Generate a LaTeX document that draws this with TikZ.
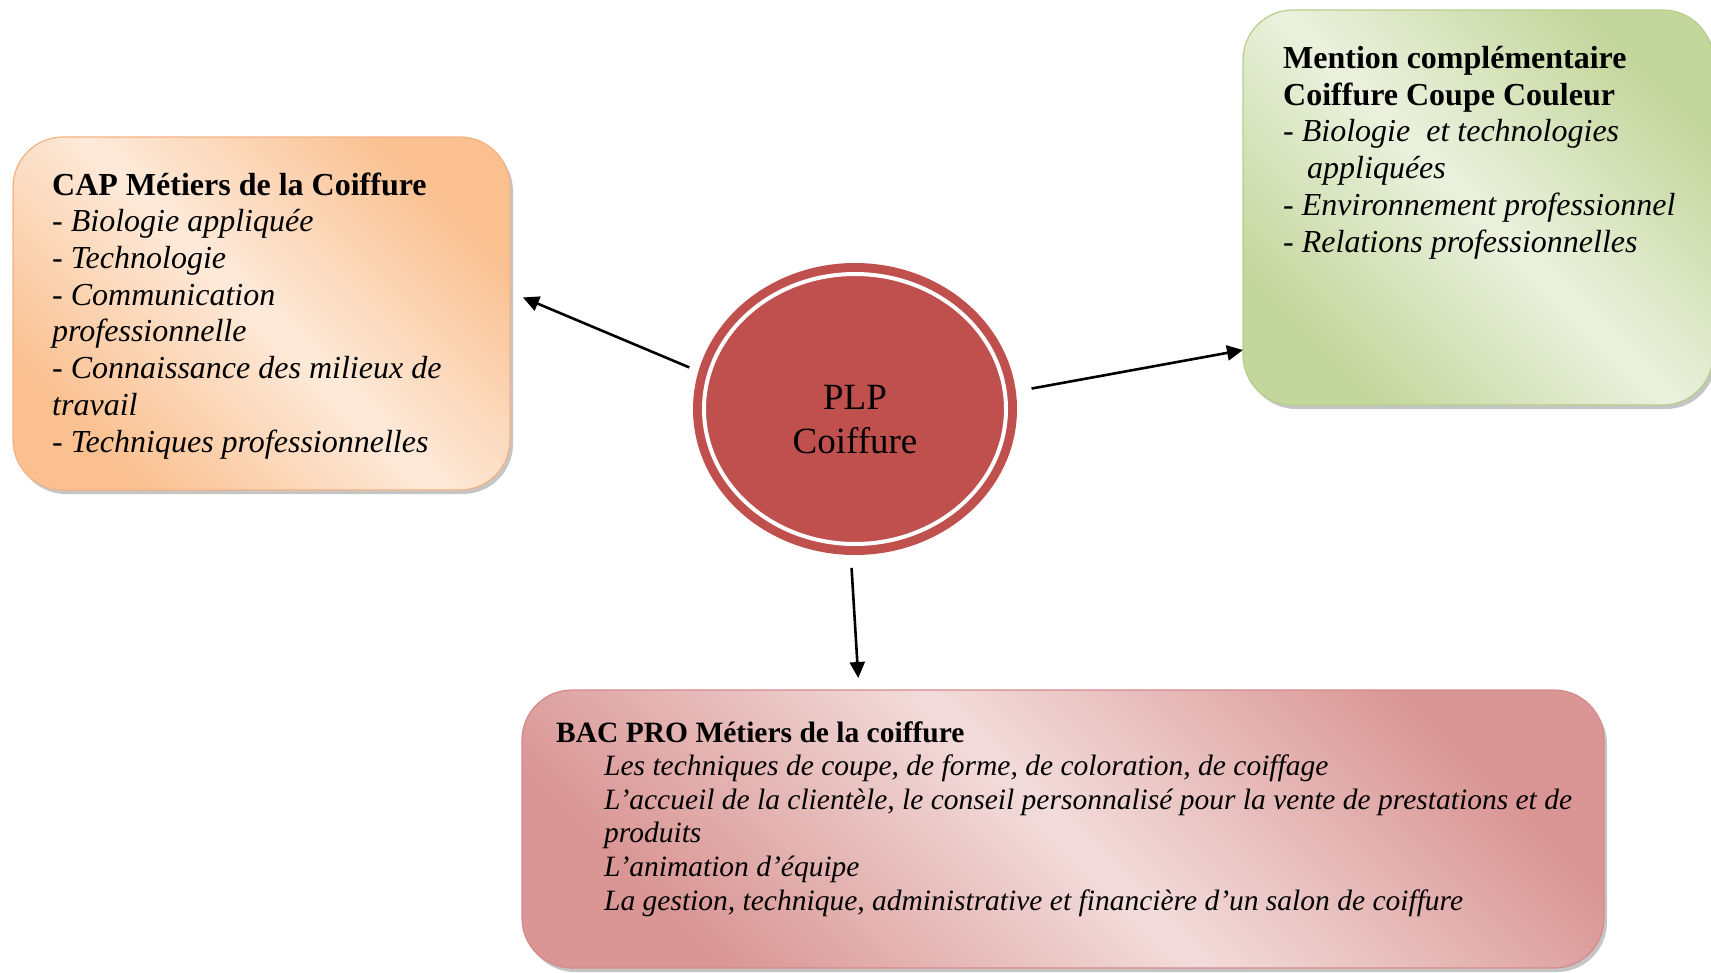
\documentclass[tikz,border=0pt]{standalone}
\usepackage{fontspec}
\setmainfont{Liberation Serif}
\usetikzlibrary{shapes.geometric,shadows,arrows.meta}
\definecolor{capdark}{HTML}{FAC090}
\definecolor{caplight}{HTML}{FDEADA}
\definecolor{capline}{HTML}{F4B183}
\definecolor{mcdark}{HTML}{C3D69B}
\definecolor{mclight}{HTML}{EBF1DE}
\definecolor{mcline}{HTML}{B5CF8B}
\definecolor{bacdark}{HTML}{D99694}
\definecolor{baclight}{HTML}{F2DCDB}
\definecolor{bacline}{HTML}{D6898A}
\definecolor{plpred}{HTML}{C0504D}
\tikzset{
  box/.style={rectangle, rounded corners=50pt, outer sep=0pt, line width=1.2pt,
    drop shadow={shadow xshift=3pt, shadow yshift=-4pt, fill=black!45, opacity=.5}},
  txt/.style={align=left, inner sep=0pt, anchor=base west},
  arr/.style={-{Triangle[length=16pt,width=15pt]}, line width=2.6pt},
}
\begin{document}
\begin{tikzpicture}[x=1pt,y=-1pt]
\useasboundingbox (0,0) rectangle (1711,972);
% Define the boxes
\node[box, draw=capline, top color=capdark, bottom color=capdark, middle color=caplight, shading angle=-45,
  minimum width=497pt, minimum height=353pt] at (261.5,313.5) (cap) {};
\node[box, draw=mcline, top color=mcdark, bottom color=mcdark, middle color=mclight, shading angle=-45,
  minimum width=470pt, minimum height=395pt] at (1478,207.5) (mc) {};
\node[box, draw=bacline, top color=bacdark, bottom color=bacdark, middle color=baclight, shading angle=-45,
  minimum width=1082pt, minimum height=278pt] at (1063,829) (bac) {};
% Texts in the boxes (placed at the baseline of their last line)
\node[txt, font=\fontsize{32}{36.7}\selectfont] at (52,452) (captext) {\textbf{CAP Métiers de la Coiffure}\\
  \textit{- Biologie appliquée}\\
  \textit{- Technologie}\\
  \textit{- Communication}\\
  \textit{professionnelle}\\
  \textit{- Connaissance des milieux de}\\
  \textit{travail}\\
  \textit{- Techniques professionnelles}};
\node[txt, font=\fontsize{32}{36.7}\selectfont] at (1283,252) (mctext) {\textbf{Mention complémentaire}\\
  \textbf{Coiffure Coupe Couleur}\\
  \textit{- Biologie\ \ et technologies}\\
  \hspace*{24pt}\textit{appliquées}\\
  \textit{- Environnement professionnel}\\
  \textit{- Relations professionnelles}};
\node[txt, font=\fontsize{29.5}{33.6}\selectfont] at (556,910) (bactext) {\textbf{BAC PRO Métiers de la coiffure}\\
  \hspace*{48pt}\textit{Les techniques de coupe, de forme, de coloration, de coiffage}\\
  \hspace*{48pt}\textit{L’accueil de la clientèle, le conseil personnalisé pour la vente de prestations et de}\\
  \hspace*{48pt}\textit{produits}\\
  \hspace*{48pt}\textit{L’animation d'équipe}\\
  \hspace*{48pt}\textit{La gestion, technique, administrative et financière d'un salon de coiffure}};
% Define the centre
\node[ellipse, minimum width=302pt, minimum height=270pt, fill=plpred, draw=white, line width=4pt,
  preaction={draw=plpred, line width=22pt}] at (855,409) (plp) {};
\node[align=center, font=\fontsize{37}{44}\selectfont] at (855,420) (plptext) {PLP\\Coiffure};
% Draw the arrows
\draw[arr, shorten <=19pt, shorten >=14pt] (plp.167) -- ([yshift=21.5pt]cap.east);
\draw[arr, shorten <=25pt] (plp.6) -- ([yshift=-142.5pt]mc.west);
\draw[arr, shorten <=22pt, shorten >=12pt] (plp.-92) -- ([xshift=-204pt]bac.north);
\end{tikzpicture}
\end{document}
